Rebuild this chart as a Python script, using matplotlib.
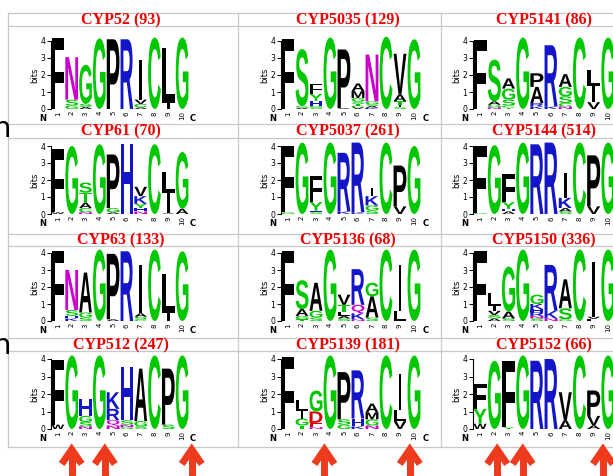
import matplotlib
matplotlib.use("Agg")
import matplotlib.pyplot as plt
import matplotlib.transforms as mtransforms
from matplotlib.textpath import TextPath
from matplotlib.patches import PathPatch
from matplotlib.font_manager import FontProperties

# -------------------------
# Logo data: one list per panel, one stack per position (bottom -> top), heights in bits
# -------------------------
CYP52 = [[("F", 4.15)], [("G", 0.2), ("S", 0.35), ("N", 2.5)], [("A", 0.12), ("S", 0.18), ("G", 2.3)],
         [("G", 4.15)], [("P", 4.1)], [("R", 4.1)], [("A", 0.1), ("C", 0.2), ("V", 0.25), ("I", 2.35)],
         [("C", 4.2)], [("I", 0.35), ("L", 3.25)], [("G", 4.2)]]
CYP5035 = [[("F", 4.1)], [("A", 0.07), ("G", 0.1), ("S", 3.35)],
           [("S", 0.08), ("G", 0.1), ("H", 0.3), ("Y", 0.4), ("F", 0.6)], [("G", 4.2)], [("A", 0.05), ("P", 3.45)],
           [("V", 0.1), ("C", 0.1), ("T", 0.1), ("S", 0.15), ("G", 0.2), ("M", 0.4), ("A", 0.45)],
           [("K", 0.08), ("A", 0.1), ("S", 0.1), ("G", 0.17), ("N", 2.75)], [("C", 4.25)],
           [("S", 0.1), ("I", 0.15), ("T", 0.2), ("A", 0.4), ("V", 2.4)], [("G", 4.1)]]
CYP5141 = [[("F", 4.05)], [("N", 0.1), ("G", 0.15), ("A", 0.2), ("S", 2.45)],
           [("T", 0.08), ("C", 0.12), ("S", 0.35), ("G", 0.65), ("A", 0.6)], [("G", 4.2)],
           [("K", 0.15), ("R", 0.2), ("A", 0.95), ("P", 0.8)], [("K", 0.15), ("R", 3.6)],
           [("N", 0.15), ("C", 0.2), ("S", 0.4), ("G", 0.55), ("A", 0.75)], [("C", 4.2)],
           [("V", 0.4), ("I", 0.95), ("L", 0.95)], [("G", 4.2)]]
CYP61 = [[("W", 0.1), ("F", 3.7)], [("G", 4.0)], [("N", 0.1), ("C", 0.25), ("A", 0.3), ("T", 0.6), ("S", 0.6)],
         [("G", 4.1)], [("A", 0.1), ("G", 0.25), ("P", 3.15)], [("H", 4.1)],
         [("N", 0.15), ("H", 0.2), ("Y", 0.25), ("K", 0.45), ("V", 0.55)], [("C", 4.1)],
         [("V", 0.05), ("I", 1.2), ("L", 1.2)], [("A", 0.3), ("G", 3.35)]]
CYP5037 = [[("G", 0.1), ("F", 3.9)], [("G", 4.2)], [("S", 0.1), ("H", 0.1), ("Y", 0.5), ("F", 1.55)],
           [("G", 4.2)], [("K", 0.15), ("R", 3.45)], [("K", 0.1), ("R", 4.1)],
           [("S", 0.2), ("G", 0.3), ("K", 0.55), ("I", 0.5)], [("C", 4.2)], [("V", 0.45), ("P", 2.4)], [("G", 4.0)]]
CYP5144 = [[("G", 0.05), ("F", 3.95)], [("G", 4.05)], [("A", 0.15), ("H", 0.15), ("Y", 0.4), ("F", 1.65)],
           [("G", 4.2)], [("R", 4.1)], [("R", 4.2)], [("S", 0.15), ("A", 0.2), ("K", 0.6), ("I", 1.45)],
           [("C", 4.2)], [("V", 0.45), ("P", 3.0)], [("G", 4.2)]]
CYP63 = [[("F", 4.1)], [("K", 0.15), ("H", 0.15), ("S", 0.35), ("N", 2.35)], [("S", 0.2), ("G", 0.3), ("A", 2.35)],
         [("G", 4.2)], [("A", 0.1), ("P", 3.85)], [("R", 4.1)], [("C", 0.1), ("S", 0.15), ("A", 0.2), ("I", 2.85)],
         [("C", 4.2)], [("I", 0.5), ("L", 2.25)], [("G", 4.1)]]
CYP5136 = [[("F", 4.1)], [("T", 0.1), ("G", 0.2), ("A", 0.4), ("S", 1.7)], [("S", 0.2), ("G", 0.4), ("A", 1.65)],
           [("G", 4.2)], [("S", 0.15), ("A", 0.15), ("L", 0.25), ("T", 0.4), ("V", 0.6)],
           [("N", 0.1), ("K", 0.35), ("Q", 0.5), ("R", 2.1)], [("S", 0.2), ("A", 1.25), ("G", 0.8)],
           [("C", 4.2)], [("L", 0.6), ("I", 2.7)], [("G", 4.2)]]
CYP5150 = [[("F", 4.1)], [("A", 0.15), ("S", 0.2), ("V", 0.25), ("I", 0.3), ("L", 0.75)],
           [("S", 0.15), ("A", 0.4), ("G", 2.65)], [("G", 4.2)],
           [("S", 0.15), ("N", 0.15), ("R", 0.2), ("H", 0.2), ("K", 0.3), ("G", 0.55)],
           [("N", 0.15), ("K", 0.45), ("R", 2.7)], [("G", 0.1), ("S", 0.65), ("A", 1.7)], [("C", 4.2)],
           [("L", 0.12), ("V", 0.13), ("I", 3.2)], [("G", 4.2)]]
CYP512 = [[("W", 0.25), ("F", 3.7)], [("G", 4.2)], [("N", 0.15), ("S", 0.25), ("G", 0.35), ("H", 0.95)],
          [("G", 4.2)], [("N", 0.2), ("Q", 0.3), ("R", 0.65), ("K", 0.95)],
          [("G", 0.1), ("N", 0.15), ("S", 0.25), ("H", 3.05)], [("S", 0.15), ("G", 0.3), ("A", 3.0)],
          [("C", 4.2)], [("S", 0.25), ("P", 3.2)], [("G", 4.2)]]
CYP5139 = [[("F", 4.1)], [("T", 0.2), ("G", 0.4), ("I", 0.45), ("L", 0.6)],
           [("N", 0.1), ("E", 0.25), ("D", 0.65), ("G", 1.2)], [("G", 4.2)], [("G", 0.25), ("S", 0.3), ("P", 2.7)],
           [("K", 0.15), ("H", 0.45), ("R", 2.75)], [("N", 0.2), ("G", 0.35), ("M", 0.4), ("A", 0.5)],
           [("C", 4.2)], [("V", 0.45), ("L", 0.65), ("I", 2.05)], [("G", 4.2)]]
CYP5152 = [[("W", 0.3), ("Y", 0.85), ("F", 1.45)], [("G", 3.9)], [("Y", 0.1), ("F", 3.8)], [("G", 4.2)],
           [("R", 3.9)], [("R", 4.0)], [("A", 0.5), ("V", 1.6)], [("C", 4.2)],
           [("A", 0.2), ("V", 0.55), ("P", 1.45)], [("G", 4.2)]]

TITLES = [["CYP52 (93)", "CYP5035 (129)", "CYP5141 (86)"],
          ["CYP61 (70)", "CYP5037 (261)", "CYP5144 (514)"],
          ["CYP63 (133)", "CYP5136 (68)", "CYP5150 (336)"],
          ["CYP512 (247)", "CYP5139 (181)", "CYP5152 (66)"]]
LOGOS = [[CYP52, CYP5035, CYP5141],
         [CYP61, CYP5037, CYP5144],
         [CYP63, CYP5136, CYP5150],
         [CYP512, CYP5139, CYP5152]]
POSITIONS = list(range(1, 11))
# conserved positions marked by arrows under the bottom row (as placed in the picture)
ARROW_POS = [[2.0, 4.4, 10.7], [3.6, 9.7], [2.2, 4.0, 9.65]]

COLORS = {}
for c in "GSTYC":
    COLORS[c] = "#00C800"
for c in "NQ":
    COLORS[c] = "#CC00CC"
for c in "KRH":
    COLORS[c] = "#1414C8"
for c in "DE":
    COLORS[c] = "#DD0000"
for c in "AVLIPWFM":
    COLORS[c] = "#000000"

# -------------------------
# Layout (pixels)
# -------------------------
W, H = 613, 476
COL_X0 = [51, 281, 473]
COL_W = [138, 140, 142]
ROW_Y0 = [109, 214, 321, 429]
ROW_Y4 = [41, 146, 253, 359]
TITLE_X = [121, 348, 544]
TITLE_Y = [20, 131, 240, 345]
HLINES = [13, 26, 124, 138, 234, 246, 338, 351, 447]
VLINES = [8, 238, 441]
GRID = "#C8C8C8"
ARROW = "#EE3A1D"

LETTER_FONT = FontProperties(family="Liberation Sans", weight="bold")
_glyphs = {}


def glyph(ch):
    if ch not in _glyphs:
        _glyphs[ch] = TextPath((0, 0), ch, size=10, prop=LETTER_FONT)
    return _glyphs[ch]


def draw_stack(ax, x, stack):
    y = 0.0
    for ch, h in stack:
        p = glyph(ch)
        bb = p.get_extents()
        w = 0.18 if ch == "I" else 0.92
        tr = (mtransforms.Affine2D()
              .translate(-bb.x0, -bb.y0)
              .scale(w / bb.width, h / bb.height)
              .translate(x - w / 2, y))
        ax.add_patch(PathPatch(tr.transform_path(p), fc=COLORS[ch], ec="none", lw=0, clip_on=False))
        y += h


fig = plt.figure(figsize=(W / 100, H / 100), dpi=100)
fig.patch.set_facecolor("white")

bg = fig.add_axes([0, 0, 1, 1])
bg.set_xlim(0, W)
bg.set_ylim(H, 0)
bg.axis("off")

for y in HLINES:
    bg.plot([VLINES[0], W], [y, y], color=GRID, lw=0.9)
for x in VLINES:
    bg.plot([x, x], [HLINES[0], HLINES[-1]], color=GRID, lw=0.9)

# cut-off letters at the left edge
bg.text(10.5, 137, "n", fontsize=21, ha="right", va="baseline", color="black")
bg.text(10.5, 354, "n", fontsize=21, ha="right", va="baseline", color="black")

for r in range(4):
    for c in range(3):
        bg.text(TITLE_X[c], TITLE_Y[r], TITLES[r][c], color="#F00000", family="Liberation Serif",
                weight="bold", fontsize=11.5, ha="center", va="center")

        h_px = ROW_Y0[r] - ROW_Y4[r]
        ax = fig.add_axes([COL_X0[c] / W, 1 - ROW_Y0[r] / H, COL_W[c] / W, h_px / H])
        ax.set_xlim(0.5, 10.5)
        ax.set_ylim(0, 4)
        ax.patch.set_alpha(0)
        for s in ["top", "right", "bottom"]:
            ax.spines[s].set_visible(False)
        ax.spines["left"].set_linewidth(0.8)
        ax.set_yticks([0, 1, 2, 3, 4])
        ax.tick_params(axis="y", length=3, width=0.7, pad=1, labelsize=5.5)
        ax.set_xticks(POSITIONS)
        ax.set_xticklabels([str(p) for p in POSITIONS], rotation=90, fontsize=5)
        ax.tick_params(axis="x", length=0, pad=1.5)
        ax.set_ylabel("bits", fontsize=6, labelpad=1)

        for pos, stack in zip(POSITIONS, LOGOS[r][c]):
            draw_stack(ax, pos, stack)

        ax.text(-0.1, -0.55, "N", fontsize=6, weight="bold", ha="center", va="center")
        if c < 2:
            # the right column's C label lies beyond the picture's edge
            ax.text(10.8, -0.55, "C", fontsize=6, weight="bold", ha="center", va="center")

# arrows under the bottom row
for c in range(3):
    for pos in ARROW_POS[c]:
        x = COL_X0[c] + (pos - 0.5) * COL_W[c] / 10
        bg.plot([x, x], [450, 480], color=ARROW, lw=5, solid_capstyle="butt")
        bg.plot([x - 10, x, x + 10], [464, 449.5, 464], color=ARROW, lw=5,
                solid_capstyle="butt", solid_joinstyle="miter")

fig.savefig("out.png", dpi=100)
